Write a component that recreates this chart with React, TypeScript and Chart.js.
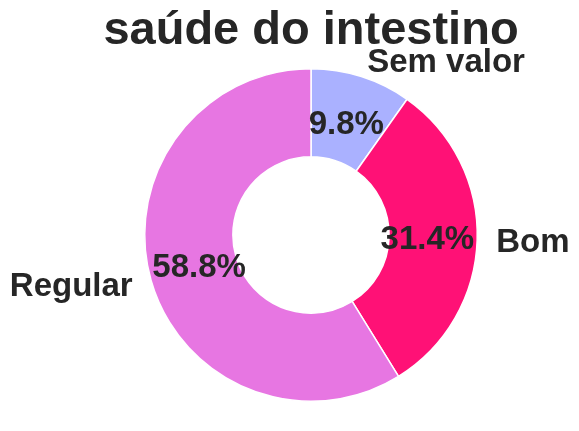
import React, { useEffect, useRef } from "react";
import { Chart, registerables } from "chart.js";

Chart.register(...registerables);

const chartTitle = "saúde do intestino";
const categories = ["Sem valor", "Bom", "Regular"];
const counts = [5, 16, 30];
const colors = ["#aab1ff", "#ff1176", "#e776e2"];

const TEXT = "#262626";
const FONT = "'Liberation Sans', Arial, sans-serif";

const labelPlugin = {
  id: "pieLabels",
  afterDatasetsDraw(chart: any) {
    const ctx = chart.ctx as CanvasRenderingContext2D;
    const meta = chart.getDatasetMeta(0);
    const data = chart.data.datasets[0].data as number[];
    const total = data.reduce((a, b) => a + b, 0);
    ctx.save();
    ctx.fillStyle = TEXT;
    meta.data.forEach((arc: any, i: number) => {
      const { x, y, startAngle, endAngle, outerRadius } = arc.getProps(
        ["x", "y", "startAngle", "endAngle", "outerRadius"],
        true
      );
      const mid = (startAngle + endAngle) / 2;
      const c = Math.cos(mid);
      const s = Math.sin(mid);
      // category label
      ctx.font = `bold 33px ${FONT}`;
      ctx.textBaseline = "middle";
      ctx.textAlign = c > 0 ? "left" : "right";
      ctx.fillText(
        String(chart.data.labels[i]),
        x + c * outerRadius * 1.115,
        y + s * outerRadius * 1.1 + 2
      );
      // percentage
      ctx.textAlign = "center";
      const pct = ((data[i] / total) * 100).toFixed(1) + "%";
      ctx.fillText(pct, x + c * outerRadius * 0.7, y + s * outerRadius * 0.7 + 1);
    });
    // title
    ctx.font = `bold 47px ${FONT}`;
    ctx.textAlign = "center";
    ctx.textBaseline = "alphabetic";
    ctx.fillText(chartTitle, 311, 44);
    ctx.restore();
  },
};

export default function App() {
  const ref = useRef<HTMLCanvasElement | null>(null);
  useEffect(() => {
    document.body.style.margin = "0";
    const chart = new Chart(ref.current as HTMLCanvasElement, {
      type: "doughnut",
      data: {
        labels: categories,
        datasets: [
          {
            data: counts,
            backgroundColor: colors,
            borderColor: "#ffffff",
            borderWidth: 1.5,
          },
        ],
      },
      options: {
        animation: false,
        responsive: false,
        cutout: "47%",
        layout: { padding: { left: 144, right: 101, top: 68, bottom: 29 } },
        plugins: {
          legend: { display: false },
          tooltip: { enabled: false },
          title: { display: false },
        },
      },
      plugins: [labelPlugin],
    });
    return () => chart.destroy();
  }, []);
  return (
    <div style={{ width: 579, height: 431, position: "relative" }}>
      <canvas ref={ref} width={579} height={431} style={{ display: "block" }} />
    </div>
  );
}
